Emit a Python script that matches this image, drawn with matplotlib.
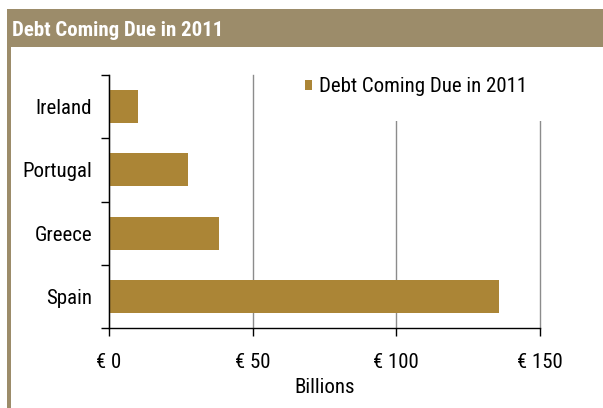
import matplotlib
matplotlib.use('Agg')
import matplotlib.pyplot as plt
from matplotlib.patches import Rectangle, Patch

plt.rcParams['font.family'] = ['Roboto Condensed', 'DejaVu Sans']

## Data
countries = ['Ireland', 'Portugal', 'Greece', 'Spain']
debt_due = [10, 27.6, 38.4, 135.7]  # billions of euros
x_ticks = [0, 50, 100, 150]
x_tick_labels = ['\u20ac 0', '\u20ac 50', '\u20ac 100', '\u20ac 150']

title = 'Debt Coming Due in 2011'
header_col = '#9c8c6a'
bar_col = '#ab8536'

fig = plt.figure(figsize=(6.03, 4.08), dpi=100)

## Header band and left rule
W, H = 603.0, 408.0
fig.patches.append(Rectangle((7 / W, 1 - 47 / H), 1 - 7 / W, 38 / H,
                             transform=fig.transFigure, facecolor=header_col,
                             edgecolor='none', zorder=0))
fig.patches.append(Rectangle((7 / W, 0), 4 / W, 1 - 9 / H,
                             transform=fig.transFigure, facecolor=header_col,
                             edgecolor='none', zorder=0))
fig.text(12 / W, 1 - 30 / H, title, color='white', fontsize=15,
         fontweight='bold', va='center', ha='left')

## Bars
ax = fig.add_axes([109 / W, 1 - 328 / H, 431 / W, 253 / H])
ypos = list(range(len(countries)))
ax.barh(ypos, debt_due, height=0.52, color=bar_col, zorder=2,
        label=title)

ax.set_xlim(0, 150)
ax.set_ylim(len(countries) - 0.5, -0.5)

ax.set_xticks(x_ticks)
ax.set_xticklabels(x_tick_labels, fontsize=15)
ax.set_yticks(ypos)
ax.set_yticklabels(countries, fontsize=15)
ax.set_yticks([i - 0.5 for i in range(len(countries) + 1)], minor=True)
ax.tick_params(axis='y', which='major', length=0, pad=12)
ax.tick_params(axis='y', which='minor', length=6, width=1, direction='out')
ax.tick_params(axis='x', length=6, width=1, direction='out', pad=12)
ax.set_xlabel('Billions', fontsize=15, labelpad=4)

for s in ['top', 'right']:
    ax.spines[s].set_visible(False)
for s in ['left', 'bottom']:
    ax.spines[s].set_linewidth(1)
    ax.spines[s].set_color('black')

ax.set_axisbelow(True)
ax.xaxis.grid(True, color='#8c8c8c', linewidth=1)
for gl in ax.get_xgridlines():
    gl.set_clip_on(False)

# white area behind the legend hides the grid lines
ax.add_patch(Rectangle((0.42, 0.82), 0.6, 0.2, transform=ax.transAxes,
                       facecolor='white', edgecolor='none', zorder=1,
                       clip_on=False))

handle = Patch(facecolor=bar_col, edgecolor='none')
ax.legend([handle], [title], loc='center left',
          bbox_to_anchor=(305 / W, 1 - 87 / H), bbox_transform=fig.transFigure,
          frameon=False, fontsize=15, handlelength=0.35, handleheight=0.35,
          handletextpad=0.3, borderpad=0, borderaxespad=0)

fig.savefig('out.png', dpi=100)
